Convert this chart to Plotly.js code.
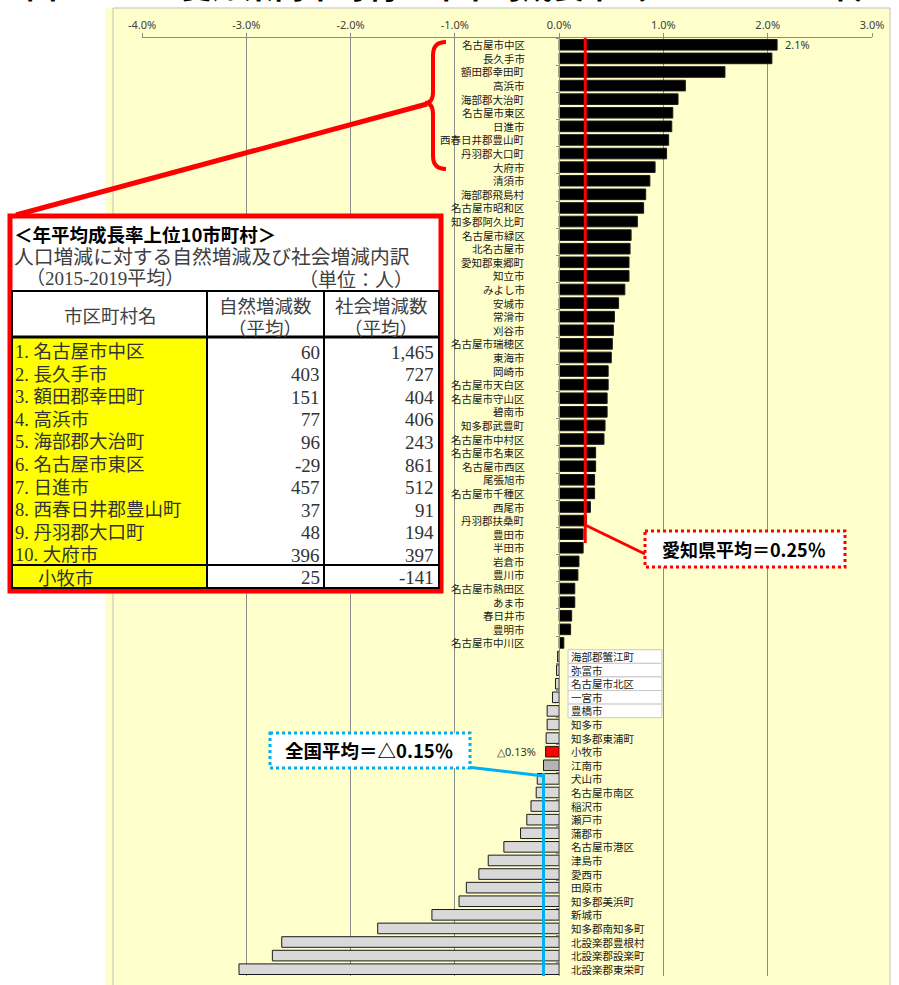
<!DOCTYPE html>
<html>
<head>
<meta charset="utf-8">
<script src="https://cdn.plot.ly/plotly-3.0.1.min.js"></script>
<style>
  body { margin: 0; background: #fff; }
  #chart { width: 899px; height: 985px; }
</style>
</head>
<body>
<div id="chart"></div>
<script>
// municipalities, top to bottom
const cats = [
  '名古屋市中区', '長久手市', '額田郡幸田町', '高浜市', '海部郡大治町', '名古屋市東区', '日進市',
  '西春日井郡豊山町', '丹羽郡大口町', '大府市', '清須市', '海部郡飛島村', '名古屋市昭和区',
  '知多郡阿久比町', '名古屋市緑区', '北名古屋市', '愛知郡東郷町', '知立市', 'みよし市', '安城市',
  '常滑市', '刈谷市', '名古屋市瑞穂区', '東海市', '岡崎市', '名古屋市天白区', '名古屋市守山区',
  '碧南市', '知多郡武豊町', '名古屋市中村区', '名古屋市名東区', '名古屋市西区', '尾張旭市',
  '名古屋市千種区', '西尾市', '丹羽郡扶桑町', '豊田市', '半田市', '岩倉市', '豊川市',
  '名古屋市熱田区', 'あま市', '春日井市', '豊明市', '名古屋市中川区',
  '海部郡蟹江町', '弥富市', '名古屋市北区', '一宮市', '豊橋市', '知多市', '知多郡東浦町', '小牧市',
  '江南市', '犬山市', '名古屋市南区', '稲沢市', '瀬戸市', '蒲郡市', '名古屋市港区', '津島市',
  '愛西市', '田原市', '知多郡美浜町', '新城市', '知多郡南知多町', '北設楽郡豊根村',
  '北設楽郡設楽町', '北設楽郡東栄町'
];
// annual growth rate (%)
const vals = [
  2.09, 2.04, 1.59, 1.21, 1.14, 1.09, 1.08, 1.05, 1.03, 0.92, 0.87, 0.83, 0.81, 0.75, 0.69,
  0.68, 0.67, 0.67, 0.63, 0.57, 0.53, 0.52, 0.51, 0.50, 0.47, 0.47, 0.46, 0.46, 0.44, 0.43,
  0.35, 0.35, 0.34, 0.34, 0.30, 0.26, 0.23, 0.23, 0.19, 0.18, 0.15, 0.15, 0.12, 0.11, 0.045,
  -0.015, -0.025, -0.035, -0.064, -0.115, -0.115, -0.125, -0.13, -0.15, -0.21, -0.22, -0.27,
  -0.31, -0.37, -0.53, -0.68, -0.77, -0.89, -0.96, -1.22, -1.74, -2.66, -2.75, -3.07
];
const tickVals = [-4, -3, -2, -1, 0, 1, 2, 3];
const tickText = tickVals.map(v => v.toFixed(1) + '%');
const aichiAvg = 0.25;
const nationalAvg = -0.15;
const highlight = '小牧市';
const darker = '江南市';
const boxedLabels = ['海部郡蟹江町', '弥富市', '名古屋市北区', '一宮市', '豊橋市'];

// table: top 10 by growth rate
const topNames = ['名古屋市中区', '長久手市', '額田郡幸田町', '高浜市', '海部郡大治町',
  '名古屋市東区', '日進市', '西春日井郡豊山町', '丹羽郡大口町', '大府市'];
const natural = [60, 403, 151, 77, 96, -29, 457, 37, 48, 396];
const social = [1465, 727, 404, 406, 243, 861, 512, 91, 194, 397];
const komakiNatural = 25;
const komakiSocial = -141;

// page geometry (pixels)
const W = 899, H = 985;
const L = 142, R = 872, T = 38, B = 976;
const px = x => (x - L) / (R - L);   // pixel -> paper x
const py = y => (B - y) / (B - T);   // pixel -> paper y
const pt = (x, y) => px(x) + ',' + py(y);

const JP = '"Noto Sans CJK JP", sans-serif';
const SERIF = '"Liberation Serif", "Noto Sans CJK JP", serif';
const RED = '#ff0000';
const BLUE = '#00b0f0';

const colors = cats.map((c, i) => c === highlight ? RED : c === darker ? '#b4b4b4' : vals[i] > 0 ? '#000000' : '#d9d9d9');

const data = [{
  type: 'bar',
  orientation: 'h',
  y: cats,
  x: vals,
  width: 0.78,
  marker: { color: colors, line: { color: '#1a1a1a', width: 1 } },
  hoverinfo: 'skip'
}];

//labels next to the zero axis
const annotations = cats.map((c, i) => ({
  xref: 'x', yref: 'y', x: 0, y: c,
  text: c,
  showarrow: false,
  xanchor: vals[i] > 0 ? 'right' : 'left',
  yanchor: 'middle',
  xshift: vals[i] > 0 ? -32 : 10,
  font: { family: JP, size: 10.5, color: '#1a1a1a' }
}));

const iHi = cats.indexOf(highlight);
annotations.push(
  { xref: 'x', yref: 'y', x: vals[0], y: cats[0], text: vals[0].toFixed(1) + '%', showarrow: false,
    xanchor: 'left', yanchor: 'middle', xshift: 6, font: { family: 'Noto Sans', size: 11, color: '#333' } },
  { xref: 'x', yref: 'y', x: vals[iHi], y: cats[iHi], text: '△' + Math.abs(vals[iHi]).toFixed(2) + '%',
    showarrow: false, xanchor: 'right', yanchor: 'middle', xshift: -8,
    font: { family: 'Noto Sans', size: 11, color: '#333' } },
  { xref: 'paper', yref: 'paper', x: px(744), y: py(549), xanchor: 'center', yanchor: 'middle',
    text: '愛知県平均＝' + aichiAvg.toFixed(2) + '％',
    showarrow: false, font: { family: JP, size: 18, color: '#000', weight: 'bold' } },
  { xref: 'paper', yref: 'paper', x: px(369), y: py(750), xanchor: 'center', yanchor: 'middle',
    text: '全国平均＝△' + Math.abs(nationalAvg).toFixed(2) + '％',
    showarrow: false, font: { family: JP, size: 18.5, color: '#000', weight: 'bold' } },
  // page title, cut at the top edge
  { xref: 'paper', yref: 'paper', x: px(24), y: py(9), xanchor: 'left', yanchor: 'bottom',
    text: '図２－５　愛知県内市町村の年平均成長率（2015→2019年）', showarrow: false,
    font: { family: JP, size: 31, color: '#000', weight: 'bold' } }
);

// table texts
const tText = (x, y, text, opts) => Object.assign({
  xref: 'paper', yref: 'paper', x: px(x), y: py(y), text, showarrow: false,
  xanchor: 'center', yanchor: 'middle',
  font: { family: JP, size: 17, color: '#333' }
}, opts);
annotations.push(
  tText(12, 234, '＜年平均成長率上位10市町村＞', { xanchor: 'left', font: { family: JP, size: 18.5, color: '#000', weight: 'bold' } }),
  tText(12, 256, '人口増減に対する自然増減及び社会増減内訳', { xanchor: 'left', font: { family: JP, size: 19.8, color: '#404040' } }),
  tText(24, 278, '（2015-2019平均）', { xanchor: 'left', font: { family: SERIF, size: 19, color: '#404040' } }),
  tText(415, 278, '（単位：人）', { xanchor: 'right', font: { family: JP, size: 19, color: '#404040' } }),
  tText(110, 315, '市区町村名', { font: { family: JP, size: 18.5, color: '#404040' } }),
  tText(265, 305, '自然増減数', { font: { family: JP, size: 18.5, color: '#404040' } }),
  tText(265, 327, '（平均）', { font: { family: JP, size: 18.5, color: '#404040' } }),
  tText(381, 305, '社会増減数', { font: { family: JP, size: 18.5, color: '#404040' } }),
  tText(381, 327, '（平均）', { font: { family: JP, size: 18.5, color: '#404040' } })
);
topNames.forEach((n, i) => {
  const y = 352 + i * 22.6;
  annotations.push(
    tText(13, y, (i + 1) + '. ' + n, { xanchor: 'left', font: { family: SERIF, size: 18.5, color: '#333' } }),
    tText(322, y, natural[i].toLocaleString('en-US'), { xanchor: 'right', font: { family: SERIF, size: 19, color: '#333' } }),
    tText(436, y, social[i].toLocaleString('en-US'), { xanchor: 'right', font: { family: SERIF, size: 19, color: '#333' } })
  );
});
annotations.push(
  tText(36, 577, highlight, { xanchor: 'left', font: { family: JP, size: 18.5, color: '#333' } }),
  tText(322, 577, komakiNatural.toLocaleString('en-US'), { xanchor: 'right', font: { family: SERIF, size: 19, color: '#333' } }),
  tText(436, 577, komakiSocial.toLocaleString('en-US'), { xanchor: 'right', font: { family: SERIF, size: 19, color: '#333' } })
);

const line = (x0, y0, x1, y1, color, width, extra) => Object.assign({
  type: 'line', xref: 'paper', yref: 'paper', x0: px(x0), y0: py(y0), x1: px(x1), y1: py(y1),
  line: { color, width }, layer: 'above'
}, extra);
const rect = (x0, y0, x1, y1, lineStyle, fill, layer) => ({
  type: 'rect', xref: 'paper', yref: 'paper', x0: px(x0), y0: py(y0), x1: px(x1), y1: py(y1),
  line: lineStyle, fillcolor: fill, layer: layer || 'above'
});

const shapes = [
  // chart frame
  rect(105, 8, 113, 990, { width: 0 }, '#ffffcc', 'below'),
  rect(113, 8, 890, 990, { color: '#bfbfbf', width: 1 }, '#ffffcc', 'below'),
  // boxed labels
  ...boxedLabels.map(c => ({
    type: 'rect', xref: 'x', yref: 'y', x0: 0.085, x1: 0.985,
    y0: cats.indexOf(c) - 0.5, y1: cats.indexOf(c) + 0.5,
    line: { color: '#c8c8c8', width: 1 }, fillcolor: '#ffffff', layer: 'below'
  })),
  // Aichi average
  { type: 'line', xref: 'x', yref: 'paper', x0: aichiAvg, x1: aichiAvg, y0: 1, y1: py(543),
    line: { color: RED, width: 3 }, layer: 'above' },
  { type: 'line', xref: 'x', yref: 'paper', x0: aichiAvg, y0: py(525), x1: -4 + 7 * px(645), y1: py(554),
    line: { color: RED, width: 3 }, layer: 'above' },
  rect(645, 531, 845, 567, { color: RED, width: 3, dash: 'dot' }, '#ffffff'),
  // national average
  { type: 'line', xref: 'x', yref: 'paper', x0: nationalAvg, x1: nationalAvg, y0: py(773), y1: 0,
    line: { color: BLUE, width: 3 }, layer: 'above' },
  { type: 'line', xref: 'x', yref: 'paper', x0: -4 + 7 * px(467), y0: py(767), x1: nationalAvg, y1: py(776),
    line: { color: BLUE, width: 3 }, layer: 'above' },
  rect(270, 733, 470, 768, { color: BLUE, width: 3, dash: 'dot' }, '#ffffff'),
  // brace over the top 9 and connector to the table
  { type: 'path', xref: 'paper', yref: 'paper', layer: 'above', line: { color: RED, width: 4 },
    path: 'M' + pt(446, 42) + ' Q' + pt(433, 42) + ' ' + pt(433, 55) + ' L' + pt(433, 92) +
      ' Q' + pt(433, 103) + ' ' + pt(425, 103) + ' Q' + pt(433, 103) + ' ' + pt(433, 114) +
      ' L' + pt(433, 156) + ' Q' + pt(433, 169) + ' ' + pt(446, 169) },
  line(427, 104, 16, 215, RED, 5),
  // table
  rect(10, 216, 441, 591, { color: RED, width: 5 }, '#ffffff'),
  rect(12, 337, 207, 588, { width: 0 }, '#ffff00'),
  rect(12, 291, 439, 588, { color: '#000', width: 2 }, 'rgba(0,0,0,0)'),
  line(207, 291, 207, 588, '#000', 2),
  line(324, 291, 324, 588, '#000', 2),
  line(12, 337, 439, 337, '#000', 3),
  line(12, 565, 439, 565, '#000', 2)
];

const layout = {
  width: W, height: H,
  margin: { l: L, r: W - R, t: T, b: H - B },
  paper_bgcolor: '#ffffff',
  plot_bgcolor: '#ffffff',
  showlegend: false,
  xaxis: {
    side: 'top', range: [-4, 3], tickvals: tickVals, ticktext: tickText,
    ticks: 'outside', ticklen: 4, tickcolor: '#8c8c8c',
    showgrid: true, gridcolor: '#8c8c8c', gridwidth: 1, zeroline: false,
    showline: true, linecolor: '#8c8c8c', linewidth: 1,
    tickfont: { family: 'Noto Sans', size: 11, color: '#404040' }, fixedrange: true
  },
  yaxis: {
    type: 'category', categoryorder: 'array', categoryarray: cats,
    range: [cats.length - 0.5, -0.5], anchor: 'free', position: 4 / 7,
    showticklabels: false, ticks: 'outside', tickson: 'boundaries', ticklen: 3, tickcolor: '#8c8c8c',
    showline: true, linecolor: '#8c8c8c', linewidth: 1, showgrid: false, zeroline: false, fixedrange: true
  },
  shapes,
  annotations
};

Plotly.newPlot('chart', data, layout, { staticPlot: true });
</script>
</body>
</html>
